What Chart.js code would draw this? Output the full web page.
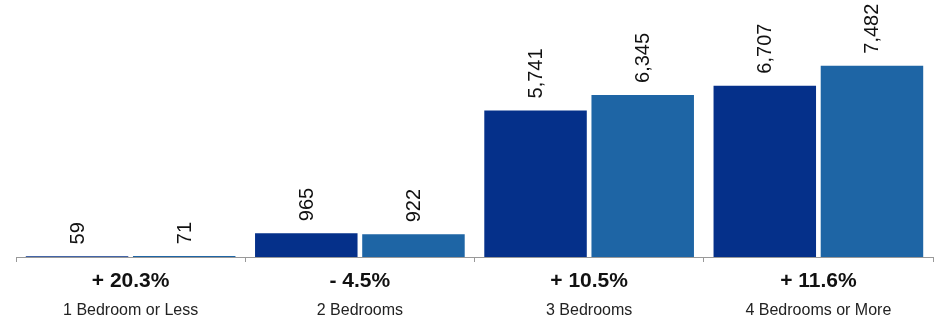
<!DOCTYPE html>
<html lang="en">
<head>
    <meta charset="UTF-8">
    <title>Units by Bedroom Count</title>
    <script src="https://cdn.jsdelivr.net/npm/chart.js"></script>
    <style>
        html, body { margin: 0; padding: 0; background: #fff; }
        #wrap { width: 935px; height: 321px; }
    </style>
</head>
<body>
    <div id="wrap"><canvas id="units-chart"></canvas></div>

    <script>
        const categories = ['1 Bedroom or Less', '2 Bedrooms', '3 Bedrooms', '4 Bedrooms or More'];
        const earlierUnits = [59, 965, 5741, 6707];
        const laterUnits = [71, 922, 6345, 7482];
        const changeLabels = ['+ 20.3%', '- 4.5%', '+ 10.5%', '+ 11.6%'];

        const FONT = '"Liberation Sans", Arial, Helvetica, sans-serif';

        // Rotated value labels above each bar
        const valueLabels = {
            id: 'valueLabels',
            afterDatasetsDraw(chart) {
                const ctx = chart.ctx;
                ctx.save();
                ctx.font = '20px ' + FONT;
                ctx.fillStyle = '#111';
                ctx.textAlign = 'left';
                ctx.textBaseline = 'middle';
                chart.data.datasets.forEach((ds, i) => {
                    chart.getDatasetMeta(i).data.forEach((bar, j) => {
                        ctx.save();
                        ctx.translate(bar.x + 1, bar.y - 11);
                        ctx.rotate(-Math.PI / 2);
                        ctx.fillText(ds.data[j].toLocaleString('en-US'), 0, 0);
                        ctx.restore();
                    });
                });
                ctx.restore();
            }
        };

        new Chart(document.getElementById('units-chart'), {
            type: 'bar',
            data: {
                labels: categories,
                datasets: [{
                    data: earlierUnits,
                    backgroundColor: '#05308A',
                    borderColor: 'rgba(255,255,255,0.35)',
                    borderWidth: 1
                }, {
                    data: laterUnits,
                    backgroundColor: '#1E65A5',
                    borderColor: 'rgba(255,255,255,0.35)',
                    borderWidth: 1
                }]
            },
            options: {
                responsive: true,
                maintainAspectRatio: false,
                animation: false,
                layout: { padding: { left: 16, right: 2, top: 0, bottom: 0 } },
                datasets: { bar: { categoryPercentage: 0.935, barPercentage: 0.975 } },
                plugins: { legend: { display: false }, tooltip: { enabled: false } },
                scales: {
                    y: { display: false, min: 0, max: 10000 },
                    x: {
                        position: 'bottom',
                        grid: { drawOnChartArea: false, drawTicks: true, tickLength: 5, color: '#999' },
                        border: { color: '#999', width: 1 },
                        ticks: {
                            callback: (v, i) => changeLabels[i],
                            font: { family: FONT, size: 21, weight: 'bold' },
                            color: '#111',
                            padding: 7,
                            maxRotation: 0
                        },
                        afterFit: (scale) => { scale.height = 36; }
                    },
                    x2: {
                        type: 'category',
                        labels: categories,
                        position: 'bottom',
                        offset: true,
                        grid: { display: false },
                        border: { display: false },
                        ticks: {
                            font: { family: FONT, size: 16 },
                            color: '#222',
                            padding: 0,
                            maxRotation: 0
                        },
                        afterFit: (scale) => { scale.height = 28; }
                    }
                }
            },
            plugins: [valueLabels]
        });
    </script>
</body>
</html>
